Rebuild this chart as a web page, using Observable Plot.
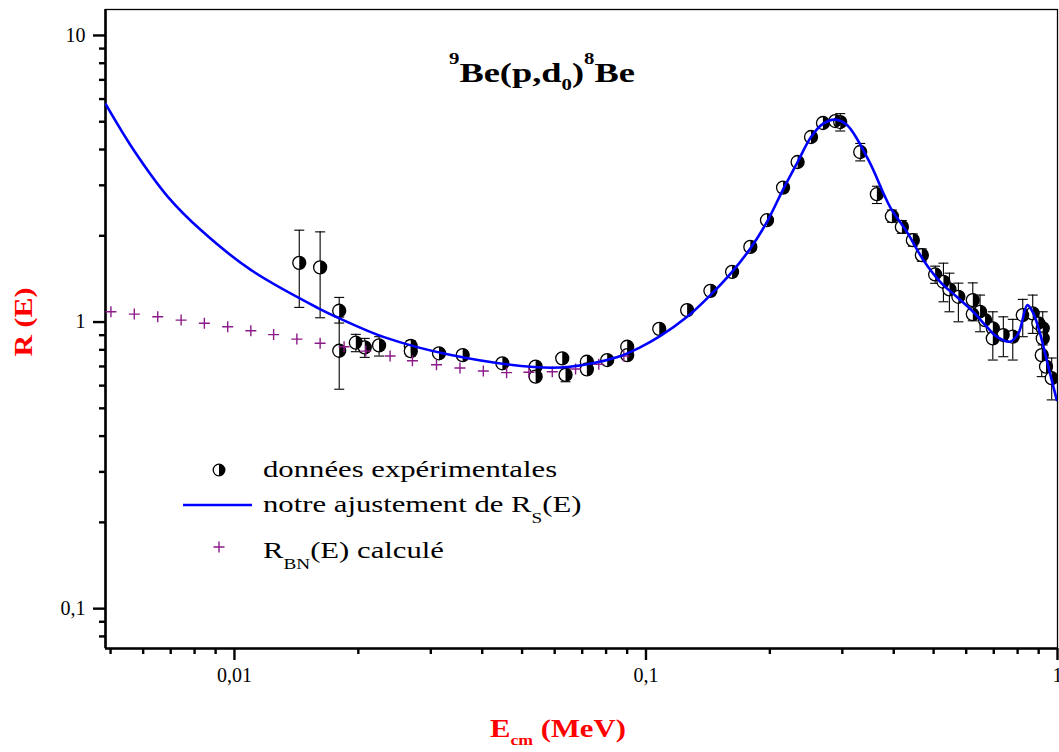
<!DOCTYPE html>
<html><head><meta charset="utf-8">
<script src="https://cdn.jsdelivr.net/npm/d3@7"></script>
<script src="https://cdn.jsdelivr.net/npm/@observablehq/plot@0.6"></script>
<style>body{margin:0;background:#fff} svg{display:block}</style>
</head><body><div id="chart"></div>
<script>
const N = null;
// experimental data: E_cm (MeV), R(E), error low, error high
const expE = [0.01437,0.01615,0.01797,0.01797,0.01972,0.02073,0.02246,0.02682,0.02682,0.03141,0.03586,0.04477,0.05393,0.05393,0.06259,0.06375,0.07184,0.07184,0.08049,0.09003,0.09003,0.1077,0.1259,0.1434,0.1619,0.1793,0.1968,0.2153,0.2336,0.2518,0.2692,0.2884,0.2965,0.3316,0.364,0.3959,0.4186,0.4451,0.4681,0.5043,0.5282,0.5462,0.5743,0.6225,0.6225,0.6484,0.6668,0.6963,0.6963,0.7385,0.7786,0.8233,0.8705,0.8983,0.9207,0.9207,0.9156,0.9376,0.968];
const expR = [1.609,1.551,1.095,0.794,0.847,0.816,0.829,0.825,0.792,0.778,0.767,0.718,0.699,0.645,0.747,0.654,0.727,0.684,0.737,0.82,0.767,0.947,1.101,1.285,1.497,1.829,2.267,2.946,3.618,4.423,4.949,5.028,4.988,3.921,2.793,2.341,2.148,1.931,1.712,1.466,1.382,1.3,1.225,1.193,1.066,1.086,1.016,0.951,0.877,0.901,0.889,1.058,1.072,0.99,0.951,0.877,0.767,0.699,0.637];
const errLo = [1.125,1.035,0.992,0.583,0.788,0.753,0.761,0.761,N,N,N,N,N,N,N,0.619,N,N,N,N,N,N,N,N,N,N,N,N,N,N,N,N,4.641,3.65,2.592,2.23,2.04,1.84,1.63,1.365,1.177,1.086,1.002,1.01,N,0.925,N,N,0.737,0.757,0.737,0.889,0.913,N,0.832,N,0.645,N,0.535];
const errHi = [2.092,2.064,1.219,1.041,0.906,0.877,0.889,0.861,N,N,N,N,N,N,N,0.691,N,N,N,N,N,N,N,N,N,N,N,N,N,N,N,N,5.337,4.2,2.978,2.46,2.26,2.03,1.8,1.567,1.605,1.481,1.367,1.37,N,1.242,N,N,1.086,1.043,1.022,1.2,1.242,N,1.086,N,0.877,N,0.749];
// fitted R_S(E)
const fitE = [0.00487,0.0057,0.0069,0.0083,0.01096,0.01596,0.01795,0.0231,0.0336,0.0534,0.0645,0.0853,0.097,0.1077,0.1259,0.1434,0.1619,0.1793,0.1968,0.2153,0.2336,0.2518,0.2695,0.2884,0.3084,0.3474,0.392,0.4305,0.4724,0.5187,0.569,0.6237,0.6733,0.7118,0.767,0.8034,0.845,0.8735,0.9068,0.95,0.9954];
const fitR = [5.75,3.97,2.73,2.09,1.52,1.119,1.032,0.886,0.767,0.697,0.697,0.755,0.818,0.889,1.043,1.242,1.497,1.806,2.236,2.9,3.618,4.423,4.923,5.085,4.858,3.67,2.52,2.064,1.644,1.382,1.225,1.086,0.963,0.889,0.854,0.913,1.146,1.072,0.913,0.699,0.535];
// computed R_BN(E)
const bnE = [0.00501,0.00571,0.00651,0.00742,0.00845,0.00963,0.01096,0.01245,0.01418,0.01615,0.01847,0.02085,0.02389,0.02707,0.03097,0.03532,0.04025,0.04585,0.05194,0.0592,0.06744,0.0768,0.08834];
const bnR = [1.086,1.066,1.043,1.016,0.99,0.963,0.933,0.904,0.872,0.843,0.82,0.792,0.761,0.733,0.71,0.691,0.675,0.666,0.668,0.671,0.686,0.712,0.761];
// ticks
const xMajorTicks = [0.01,0.1,1];
const xMinorTicks = [0.005,0.006,0.007,0.008,0.009,0.02,0.03,0.04,0.05,0.06,0.07,0.08,0.09,0.2,0.3,0.4,0.5,0.6,0.7,0.8,0.9];
const yMajorTicks = [0.1,1,10];
const yMinorTicks = [0.08,0.09,0.2,0.3,0.4,0.5,0.6,0.7,0.8,0.9,2,3,4,5,6,7,8,9];
const xDomain = [0.00486, 1];
const yDomain = [0.0726, 12.32];

const tickLabel = d => String(d).replace(".", ",");
const exp = expE.map((e, i) => ({e, r: expR[i], lo: errLo[i], hi: errHi[i]}));
const errs = exp.filter(d => d.lo != null);
const caps = errs.flatMap(d => [{e: d.e, r: d.lo}, {e: d.e, r: d.hi}]);
const fit = fitE.map((e, i) => ({e, r: fitR[i]}));
const bn = bnE.map((e, i) => ({e, r: bnR[i]}));

const rad = s => Math.sqrt(s / Math.PI);
const halfSymbol = {draw(c, s) { const r = rad(s); c.moveTo(0, -r); c.arc(0, 0, r, -Math.PI / 2, Math.PI / 2); c.closePath(); }};
const capSymbol = {draw(c, s) { const r = rad(s); c.moveTo(-r, 0); c.lineTo(r, 0); }};
const plusSymbol = {draw(c, s) { const r = rad(s); c.moveTo(-r, 0); c.lineTo(r, 0); c.moveTo(0, -r); c.lineTo(0, r); }};

const PURPLE = "#8B1A89";
const svg = Plot.plot({
  width: 1059, height: 752,
  marginLeft: 105, marginRight: 2, marginTop: 9, marginBottom: 104,
  style: {fontFamily: "'Liberation Serif', serif", fontSize: "20px", color: "black", background: "white"},
  x: {type: "log", domain: xDomain, label: null},
  y: {type: "log", domain: yDomain, label: null},
  marks: [
    Plot.frame({stroke: "black", strokeWidth: 1.3}),
    Plot.ruleX([xDomain[0]], {stroke: "black", strokeWidth: 2.6}),
    Plot.ruleY([yDomain[0]], {stroke: "black", strokeWidth: 2.6}),
    Plot.axisY(yMajorTicks, {tickSize: 12, tickPadding: 8, strokeWidth: 2.4, tickFormat: tickLabel, label: null}),
    Plot.axisY(yMinorTicks, {tickSize: 6, strokeWidth: 2.4, tickFormat: () => "", label: null}),
    Plot.axisX(xMajorTicks, {tickSize: 12, tickPadding: 7, strokeWidth: 2.4, tickFormat: tickLabel, label: null, textAnchor: "middle"}),
    Plot.axisX(xMinorTicks, {tickSize: 6, strokeWidth: 2.4, tickFormat: () => "", label: null}),
    Plot.ruleX(errs, {x: "e", y1: "lo", y2: "hi", stroke: "black", strokeWidth: 1.1}),
    Plot.dot(caps, {x: "e", y: "r", symbol: capSymbol, r: 5, stroke: "black", fill: "none", strokeWidth: 1.1}),
    Plot.dot(exp, {x: "e", y: "r", r: 6.5, fill: "white", stroke: "black", strokeWidth: 1.3, clip: true}),
    Plot.dot(exp, {x: "e", y: "r", r: 6.5, symbol: halfSymbol, fill: "black", stroke: "none", clip: true}),
    Plot.dot(bn, {x: "e", y: "r", r: 5.5, symbol: plusSymbol, fill: "none", stroke: PURPLE, strokeWidth: 1.4}),
    Plot.line(fit, {x: "e", y: "r", stroke: "#0000FF", strokeWidth: 2.6, curve: "catmull-rom", clip: true})
  ]
});
document.getElementById("chart").appendChild(svg);

const s = d3.select(svg);
const serif = "'Liberation Serif', serif";
// title
const t = s.append("text").attr("transform", "translate(449,82) scale(1.3,1)").attr("text-anchor", "start")
  .attr("font-family", serif).attr("font-weight", "bold").attr("font-size", 28).attr("fill", "black");
t.append("tspan").attr("font-size", 16).attr("dy", -18).text("9");
t.append("tspan").attr("dy", 18).text("Be(p,d");
t.append("tspan").attr("font-size", 16).attr("dy", 8).text("0");
t.append("tspan").attr("dy", -8).text(")");
t.append("tspan").attr("font-size", 16).attr("dy", -18).text("8");
t.append("tspan").attr("dy", 18).text("Be");
// y label
s.append("text").attr("transform", "translate(32,322) rotate(-90) scale(1.15,1)")
  .attr("text-anchor", "middle").attr("font-family", serif).attr("font-weight", "bold")
  .attr("font-size", 26).attr("fill", "#FF0000").text("R (E)");
// x label
const xl = s.append("text").attr("transform", "translate(490,737) scale(1.18,1)").attr("text-anchor", "start")
  .attr("font-family", serif).attr("font-weight", "bold").attr("font-size", 26).attr("fill", "#FF0000");
xl.append("tspan").text("E");
xl.append("tspan").attr("font-size", 15).attr("dy", 8).text("cm");
xl.append("tspan").attr("dy", -8).text(" (MeV)");
// legend
const lg = s.append("g");
lg.append("circle").attr("cx", 219).attr("cy", 470).attr("r", 5.8).attr("fill", "white").attr("stroke", "black").attr("stroke-width", 1.3);
lg.append("path").attr("d", d3.arc()({innerRadius: 0, outerRadius: 5.8, startAngle: 0, endAngle: Math.PI})).attr("transform", "translate(219,470)").attr("fill", "black");
lg.append("line").attr("x1", 183).attr("x2", 252).attr("y1", 505).attr("y2", 505).attr("stroke", "#0000FF").attr("stroke-width", 2.6);
lg.append("path").attr("d", "M-5.5,0H5.5M0,-5.5V5.5").attr("transform", "translate(219,547)").attr("stroke", PURPLE).attr("stroke-width", 1.4);
function legendText(y) {
  return lg.append("text").attr("transform", `translate(263,${y}) scale(1.28,1)`).attr("text-anchor", "start")
    .attr("font-family", serif).attr("font-size", 24).attr("fill", "black");
}
legendText(477).text("données expérimentales");
const l2 = legendText(512);
l2.append("tspan").text("notre ajustement de R");
l2.append("tspan").attr("font-size", 15).attr("dy", 11).text("S");
l2.append("tspan").attr("dy", -11).text("(E)");
const l3 = legendText(558);
l3.append("tspan").text("R");
l3.append("tspan").attr("font-size", 15).attr("dy", 11).text("BN");
l3.append("tspan").attr("dy", -11).text("(E) calculé");
</script>
</body></html>
